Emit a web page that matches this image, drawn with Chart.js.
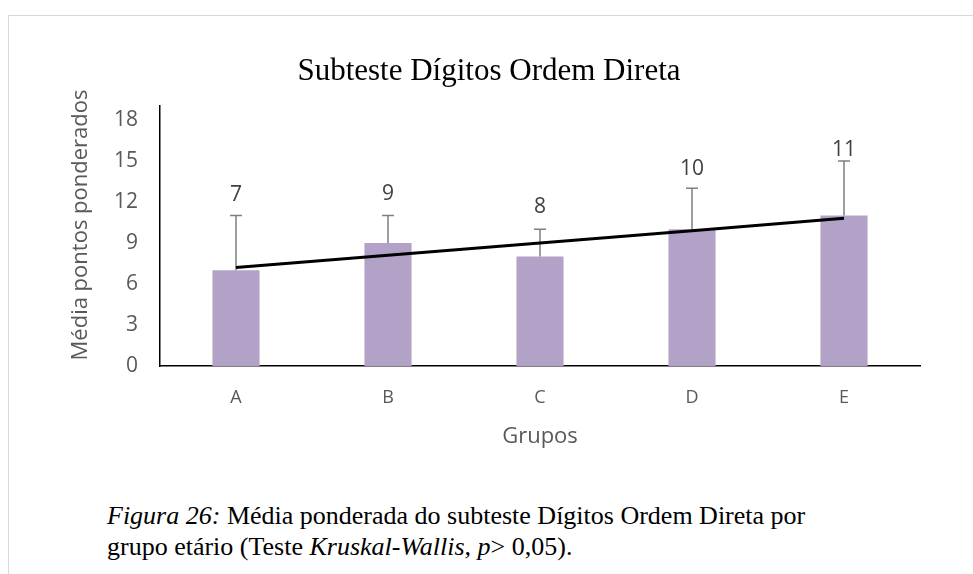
<!DOCTYPE html>
<html>
<head>
<meta charset="utf-8">
<script src="https://cdn.jsdelivr.net/npm/chart.js@4"></script>
<style>
  body { margin: 0; background: #fff; }
  #frame { position: absolute; left: 8px; top: 15px; width: 1000px; height: 600px;
           border-left: 1px solid #d9d9d9; border-top: 1px solid #d9d9d9; }
  #wrap { position: absolute; left: 0; top: 0; width: 973px; height: 470px; }
  #caption { position: absolute; left: 107px; top: 500px; font-family: "Liberation Serif", serif;
             font-size: 26px; line-height: 31px; color: #000; }
</style>
</head>
<body>
<div id="frame"></div>
<div id="wrap"><canvas id="chart"></canvas></div>
<div id="caption"><i>Figura 26:</i> Média ponderada do subteste Dígitos Ordem Direta por<br>grupo etário (Teste <i>Kruskal-Wallis, p</i>&gt; 0,05).</div>
<script>
// Values
const groups = ['A', 'B', 'C', 'D', 'E'];
const means = [7, 9, 8, 10, 11];
const upperErrors = [11, 11, 10, 13, 15];   // top of each error bar
const trend = [7.2, 8.1, 9.0, 9.9, 10.8];   // linear trend line
const yTicks = [0, 3, 6, 9, 12, 15, 18];

const axisGrey = '#595959';
// gap in px between error cap and value label (E sits closer in the original)
const labelGap = [21, 22, 22, 19, 11];

// Error bars and value labels for the bar dataset
const errorBars = {
    id: 'errorBars',
    afterDatasetDraw(chart, args) {
        if (args.index !== 0) return;
        const ctx = chart.ctx;
        const y = chart.scales.y;
        const meta = chart.getDatasetMeta(0);
        ctx.save();
        ctx.strokeStyle = '#7f7f7f';
        ctx.lineWidth = 1.5;
        meta.data.forEach((bar, i) => {
            const top = y.getPixelForValue(upperErrors[i]);
            ctx.beginPath();
            ctx.moveTo(bar.x, bar.y);
            ctx.lineTo(bar.x, top);
            ctx.moveTo(bar.x - 6, top);
            ctx.lineTo(bar.x + 6, top);
            ctx.stroke();
            ctx.fillStyle = '#404040';
            ctx.font = '21px "Open Sans"';
            ctx.textAlign = 'center';
            ctx.textBaseline = 'middle';
            ctx.fillText(String(means[i]), bar.x, top - labelGap[i]);
        });
        ctx.restore();
    },
    afterDraw(chart) {
        // y axis title, centred like the original
        const ctx = chart.ctx;
        ctx.save();
        ctx.translate(81, 225);
        ctx.rotate(-Math.PI / 2);
        ctx.fillStyle = axisGrey;
        ctx.font = '22px "Open Sans"';
        ctx.textAlign = 'center';
        ctx.textBaseline = 'middle';
        ctx.fillText('Média pontos ponderados', 0, 0);
        ctx.restore();
    }
};

const canvas = document.getElementById('chart');
new Chart(canvas, {
    data: {
        labels: groups,
        datasets: [{
            type: 'bar',
            data: means,
            backgroundColor: '#b2a2c7',
            barPercentage: 0.31,
            categoryPercentage: 1,
            order: 2
        }, {
            type: 'line',
            data: trend,
            borderColor: '#000',
            borderWidth: 3,
            pointRadius: 0,
            fill: false,
            order: 1
        }]
    },
    options: {
        responsive: true,
        maintainAspectRatio: false,
        animation: false,
        layout: { padding: { left: 58, right: 53, top: 0, bottom: 0 } },
        plugins: {
            legend: { display: false },
            tooltip: { enabled: false },
            title: {
                display: true,
                text: 'Subteste Dígitos Ordem Direta',
                color: '#000',
                font: { family: '"Liberation Serif"', size: 31, weight: 'normal' },
                padding: { top: 53, bottom: 16 }
            }
        },
        scales: {
            x: {
                grid: { display: false, drawTicks: false },
                border: { color: '#000', width: 1.5 },
                ticks: { color: axisGrey, font: { family: '"Open Sans"', size: 18 }, padding: 21 },
                title: {
                    display: true, text: 'Grupos', color: axisGrey,
                    font: { family: '"Open Sans"', size: 22 }, padding: { top: 0, bottom: 20 }
                },
                afterFit(scale) { scale.height = 104; }
            },
            y: {
                min: 0,
                max: 19,
                grid: { display: false, drawTicks: false },
                border: { color: '#000', width: 1.5 },
                ticks: { color: axisGrey, font: { family: '"Open Sans"', size: 21 }, padding: 22 },
                afterBuildTicks(scale) { scale.ticks = yTicks.map(v => ({ value: v })); },
                afterFit(scale) { scale.width = 102; }
            }
        }
    },
    plugins: [errorBars]
});
</script>
</body>
</html>
